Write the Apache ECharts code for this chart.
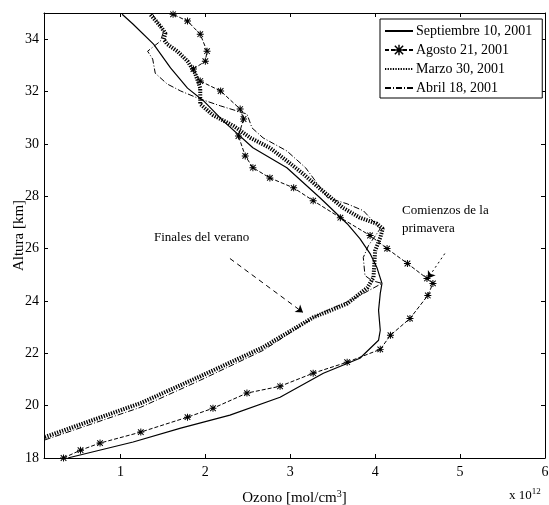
<!DOCTYPE html>
<html>
<head>
<meta charset="utf-8">
<script src="https://cdn.jsdelivr.net/npm/echarts@6/dist/echarts.min.js"></script>
<style>
  html, body { margin: 0; padding: 0; background: #fff; }
  #chart { width: 549px; height: 505px; }
</style>
</head>
<body>
<div id="chart"></div>
<script>
// perfiles de ozono: [ozono (x10^12 mol/cm3), altura km]
const septiembre = [
  [0.38, 18.00], [1.15, 18.61], [1.71, 19.14], [2.29, 19.64], [2.88, 20.32],
  [3.39, 21.24], [3.82, 21.81], [4.04, 22.50], [4.06, 22.88], [4.04, 23.64],
  [4.06, 24.29], [4.08, 24.67], [4.02, 25.28], [3.94, 25.81], [3.82, 26.38],
  [3.67, 26.95], [3.35, 27.94], [2.96, 29.09], [2.56, 29.85], [2.21, 30.88],
  [1.98, 31.64], [1.79, 32.13], [1.59, 32.90], [1.39, 33.81], [1.15, 34.57],
  [1.02, 34.95]
];
const agosto = [
  [0.33, 18.00], [0.53, 18.30], [0.76, 18.57], [1.24, 18.99], [1.79, 19.56],
  [2.09, 19.90], [2.49, 20.48], [2.88, 20.74], [3.27, 21.24], [3.67, 21.66],
  [4.06, 22.15], [4.18, 22.69], [4.41, 23.33], [4.62, 24.21], [4.68, 24.67],
  [4.61, 24.86], [4.38, 25.43], [4.14, 26.00], [3.94, 26.50], [3.59, 27.18],
  [3.27, 27.83], [3.04, 28.32], [2.76, 28.70], [2.56, 29.09], [2.47, 29.54],
  [2.39, 30.30], [2.45, 30.95], [2.41, 31.33], [2.18, 32.02], [1.94, 32.40],
  [1.86, 32.86], [2.00, 33.16], [2.02, 33.54], [1.94, 34.19], [1.79, 34.69],
  [1.62, 34.95]
];
const marzo = [
  [0.11, 18.80], [0.77, 19.56], [1.24, 20.10], [1.94, 21.12], [2.68, 22.23],
  [3.27, 23.37], [3.67, 23.90], [3.91, 24.51], [3.98, 24.90], [4.00, 25.92],
  [4.06, 26.42], [4.09, 26.76], [4.02, 26.95], [3.82, 27.18], [3.62, 27.56],
  [3.35, 28.29], [3.15, 28.86], [2.96, 29.35], [2.76, 29.85], [2.53, 30.23],
  [2.33, 30.69], [2.09, 31.10], [1.94, 31.52], [1.94, 32.13], [1.88, 32.70],
  [1.79, 33.16], [1.67, 33.54], [1.55, 33.81], [1.51, 34.00], [1.53, 34.23],
  [1.47, 34.50], [1.35, 34.95]
];
const abril = [
  [0.11, 18.69], [0.76, 19.41], [1.24, 19.94], [1.94, 20.97], [2.68, 22.11],
  [3.35, 23.52], [3.71, 24.02], [4.08, 24.67], [3.96, 24.78], [3.88, 24.97],
  [3.86, 25.66], [3.92, 26.11], [4.06, 26.76], [3.86, 27.45], [3.67, 27.71],
  [3.44, 27.94], [3.32, 28.48], [3.18, 29.09], [2.96, 29.73], [2.68, 30.23],
  [2.55, 30.61], [2.49, 31.14], [2.18, 31.45], [1.91, 31.75], [1.71, 32.02],
  [1.55, 32.29], [1.41, 32.70], [1.38, 33.24], [1.32, 33.54], [1.47, 33.92],
  [1.51, 34.30], [1.38, 34.95]
];
const nombres = ['Septiembre 10, 2001', 'Agosto 21, 2001', 'Marzo 30, 2001', 'Abril 18, 2001'];
const xTicks = [1, 2, 3, 4, 5, 6];

const serif = 'Liberation Serif';
const asterisco = 'path://M4.3,0L5.7,0L5.7,10L4.3,10Z M0,4.3L10,4.3L10,5.7L0,5.7Z M1.5,0.5L9.5,8.5L8.5,9.5L0.5,1.5Z M8.5,0.5L9.5,1.5L1.5,9.5L0.5,8.5Z';

const chart = echarts.init(document.getElementById('chart'), null, { renderer: 'canvas' });

const ejeX = (pos, conTexto) => ({
  type: 'value', position: pos, min: 0.1, max: 6,
  axisLine: { show: true, onZero: false, lineStyle: { color: '#000', width: 1 } },
  axisTick: { show: true, inside: true, length: 4, customValues: xTicks, lineStyle: { color: '#000' } },
  axisLabel: { show: conTexto, customValues: xTicks, color: '#000', fontFamily: serif, fontSize: 14, margin: 7 },
  splitLine: { show: false },
  name: conTexto ? 'Ozono [mol/cm{sup|3}]' : '',
  nameLocation: 'middle', nameGap: 31, nameMoveOverlap: false,
  nameTextStyle: { color: '#000', fontFamily: serif, fontSize: 15, rich: { sup: { fontSize: 10, verticalAlign: 'top', padding: [0, 0, 9, 0], fontFamily: serif } } }
});
const ejeY = (pos, conTexto) => ({
  type: 'value', position: pos, min: 18, max: 35, interval: 2,
  axisLine: { show: true, onZero: false, lineStyle: { color: '#000', width: 1 } },
  axisTick: { show: true, inside: true, length: 4, lineStyle: { color: '#000' } },
  axisLabel: { show: conTexto, showMaxLabel: false, color: '#000', fontFamily: serif, fontSize: 14, margin: 5 },
  splitLine: { show: false },
  name: conTexto ? 'Altura [km]' : '',
  nameLocation: 'middle', nameGap: 17, nameRotate: 90, nameMoveOverlap: false,
  nameTextStyle: { color: '#000', fontFamily: serif, fontSize: 15 }
});

const sinSimbolo = { opacity: 0 };

chart.setOption({
  animation: false,
  backgroundColor: '#fff',
  grid: { left: 44, top: 13, right: 4, bottom: 47, containLabel: false, outerBoundsMode: 'none' },
  xAxis: [ejeX('bottom', true), ejeX('top', false)],
  yAxis: [ejeY('left', true), ejeY('right', false)],
  legend: {
    left: 380, top: 19, orient: 'vertical',
    data: [
      { name: nombres[0], itemStyle: sinSimbolo },
      { name: nombres[1] },
      { name: nombres[2], itemStyle: sinSimbolo },
      { name: nombres[3], itemStyle: sinSimbolo }
    ],
    borderColor: '#000', borderWidth: 1, borderRadius: 0,
    backgroundColor: '#fff',
    padding: [5, 10, 3, 4], itemGap: 5, itemWidth: 28, itemHeight: 13,
    textStyle: { color: '#000', fontFamily: serif, fontSize: 14, padding: [0, 0, 0, -2] }
  },
  series: [
    {
      name: nombres[0], type: 'line', data: septiembre, showSymbol: false, symbol: 'none',
      lineStyle: { color: '#000', width: 1.2 }, itemStyle: { color: '#000' },
      markLine: {
        silent: true, symbol: ['none', 'arrow'], symbolSize: 7,
        label: { show: false },
        data: [
          [{ coord: [2.29, 25.62], lineStyle: { color: '#000', width: 1, type: [5, 4] } }, { coord: [3.15, 23.56] }],
          [{ coord: [4.82, 25.81], lineStyle: { color: '#000', width: 1, type: [2, 3] } }, { coord: [4.62, 24.86] }]
        ]
      }
    },
    {
      name: nombres[1], type: 'line', data: agosto, symbol: asterisco, symbolSize: 7, showSymbol: true,
      lineStyle: { color: '#000', width: 1, type: [4, 2] }, itemStyle: { color: '#000' }
    },
    {
      name: nombres[2], type: 'line', data: marzo, showSymbol: false, symbol: 'none',
      lineStyle: { color: '#000', width: 4, type: [1.3, 1.3], cap: 'butt' }, itemStyle: { color: '#000' }
    },
    {
      name: nombres[3], type: 'line', data: abril, showSymbol: false, symbol: 'none',
      lineStyle: { color: '#000', width: 1, type: [6, 2, 1, 2] }, itemStyle: { color: '#000' }
    }
  ],
  graphic: [
    { type: 'text', left: 154, top: 231, style: { text: 'Finales del verano', font: '13px "Liberation Serif"', fill: '#000' } },
    { type: 'text', left: 402, top: 202, style: { text: 'Comienzos de la\nprimavera', font: '13px "Liberation Serif"', lineHeight: 18, fill: '#000' } },
    { type: 'text', left: 509, top: 487, style: { text: 'x 10{s|12}', font: '13px "Liberation Serif"', fill: '#000', rich: { s: { fontSize: 9, verticalAlign: 'top', padding: [0, 0, 8, 0], fontFamily: serif } } } }
  ]
});
</script>
</body>
</html>
